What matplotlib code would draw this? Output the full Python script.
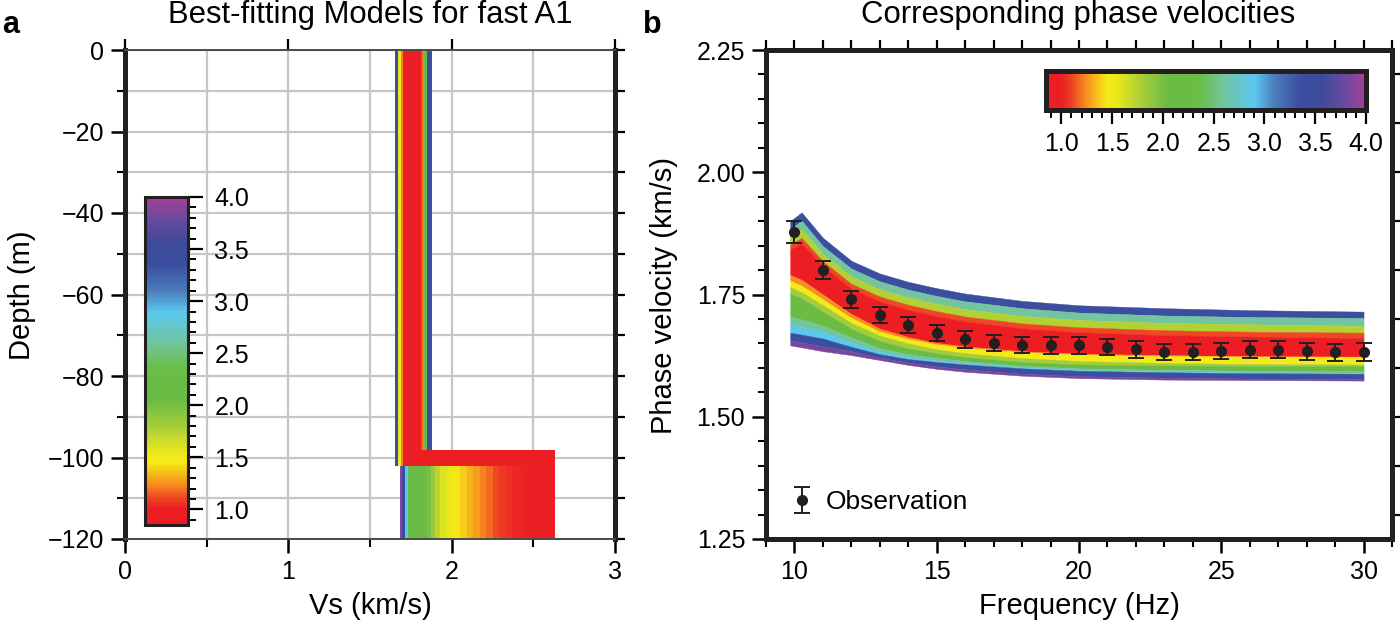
import matplotlib
matplotlib.use("Agg")
import matplotlib.pyplot as plt
from matplotlib.colors import LinearSegmentedColormap, Normalize
from matplotlib.cm import ScalarMappable
from matplotlib.ticker import MultipleLocator, FixedLocator, FormatStrFormatter

plt.rcParams['font.family'] = ['Liberation Sans', 'DejaVu Sans']

# ---------------- colour scale (misfit) ----------------
cmap_vals = [0.85, 1.0, 1.1, 1.25, 1.45, 1.55, 1.8, 2.05, 2.35, 2.6, 2.9, 3.1, 3.35, 3.55, 3.8, 4.0]
cmap_cols = ['#ec1c24', '#ec1f24', '#ee4223', '#f7941d', '#f6eb16', '#eae71c', '#a4cd39',
             '#6cbb45', '#6abd45', '#72c59e', '#5ac8f0', '#4b7cba', '#3b4fa0', '#3d4a9c',
             '#6a4a9e', '#a53f97']
misfit_min, misfit_max = 0.85, 4.0
cbar_ticks = [1.0, 1.5, 2.0, 2.5, 3.0, 3.5, 4.0]

# ---------------- panel a: best-fitting Vs models ----------------
layer_depth = 100.0
model_top, model_bottom = 0.0, -120.0
model_misfit = [3.9, 3.45, 3.35, 2.9, 2.3, 2.2, 2.15, 2.1, 2.0, 1.85, 1.72, 1.6, 1.52, 1.45,
                1.38, 1.32, 1.27, 1.22, 1.17, 1.12, 1.08, 1.05, 1.03, 1.02, 1.0, 0.99, 0.98]
model_vs1 = [1.740, 1.705, 1.828, 1.790, 1.800, 1.795, 1.790, 1.785, 1.780, 1.730, 1.728, 1.725,
             1.720, 1.745, 1.745, 1.742, 1.740, 1.739, 1.776, 1.770, 1.765, 1.760, 1.755, 1.760,
             1.751, 1.763, 1.757]
model_vs2 = [1.733, 1.745, 1.751, 1.763, 1.78, 1.80, 1.83, 1.86, 1.89, 1.92, 1.95, 1.98, 2.02,
             2.06, 2.10, 2.14, 2.18, 2.22, 2.26, 2.30, 2.34, 2.38, 2.42, 2.46, 2.50, 2.54, 2.584]

# ---------------- panel b: dispersion curves (bands) ----------------
freq_c = [9.85, 10.25, 11, 12, 13, 14, 15, 16, 18, 20, 23, 26, 30]
T0 = [1.900, 1.918, 1.866, 1.819, 1.793, 1.776, 1.763, 1.752, 1.737, 1.728, 1.722, 1.718, 1.715]
T1 = [1.884, 1.901, 1.849, 1.803, 1.777, 1.760, 1.747, 1.736, 1.722, 1.713, 1.707, 1.704, 1.702]
T2 = [1.870, 1.884, 1.833, 1.787, 1.761, 1.744, 1.731, 1.720, 1.706, 1.698, 1.692, 1.689, 1.686]
T3 = [1.852, 1.866, 1.818, 1.772, 1.746, 1.729, 1.716, 1.705, 1.691, 1.683, 1.677, 1.674, 1.672]
T4 = [1.842, 1.855, 1.808, 1.762, 1.736, 1.719, 1.706, 1.695, 1.681, 1.673, 1.667, 1.664, 1.661]
La = [1.790, 1.780, 1.750, 1.710, 1.680, 1.663, 1.651, 1.644, 1.634, 1.629, 1.626, 1.624, 1.623]
Lb = [1.778, 1.768, 1.740, 1.702, 1.674, 1.659, 1.648, 1.641, 1.632, 1.627, 1.624, 1.623, 1.622]
Lc = [1.765, 1.755, 1.728, 1.692, 1.666, 1.650, 1.638, 1.630, 1.620, 1.614, 1.610, 1.608, 1.607]
Ld = [1.752, 1.742, 1.715, 1.680, 1.655, 1.640, 1.630, 1.622, 1.612, 1.607, 1.605, 1.604, 1.604]
Le = [1.705, 1.699, 1.686, 1.662, 1.640, 1.628, 1.620, 1.614, 1.604, 1.599, 1.596, 1.594, 1.593]
Lf = [1.688, 1.683, 1.673, 1.652, 1.633, 1.622, 1.615, 1.610, 1.601, 1.596, 1.593, 1.591, 1.590]
Lg = [1.672, 1.668, 1.660, 1.643, 1.628, 1.618, 1.612, 1.607, 1.599, 1.594, 1.591, 1.589, 1.588]
Lh = [1.656, 1.652, 1.644, 1.634, 1.621, 1.611, 1.603, 1.597, 1.588, 1.583, 1.580, 1.578, 1.577]
Li = [1.646, 1.642, 1.634, 1.626, 1.616, 1.606, 1.598, 1.592, 1.584, 1.579, 1.576, 1.575, 1.574]
band_edges = [T0, T1, T2, T3, T4, La, Lb, Lc, Ld, Le, Lf, Lg, Lh, Li]
band_misfit = [3.4, 2.6, 1.75, 1.12, 0.95, 1.25, 1.47, 1.8, 2.2, 2.6, 2.9, 3.4, 3.85]

obs_f = [10, 11, 12, 13, 14, 15, 16, 17, 18, 19, 20, 21, 22, 23, 24, 25, 26, 27, 28, 29, 30]
obs_v = [1.878, 1.800, 1.740, 1.708, 1.688, 1.671, 1.658, 1.651, 1.647, 1.646, 1.646, 1.643,
         1.638, 1.633, 1.632, 1.634, 1.637, 1.637, 1.634, 1.632, 1.632]
obs_err = [0.023, 0.019, 0.017, 0.017, 0.017, 0.017, 0.017, 0.017, 0.017, 0.017, 0.017, 0.017,
           0.017, 0.016, 0.016, 0.016, 0.017, 0.017, 0.017, 0.017, 0.018]

# ---------------- figure ----------------
W, H = 1400, 628
fig = plt.figure(figsize=(W / 100, H / 100), dpi=100)
cmap = LinearSegmentedColormap.from_list(
    'misfit', [((v - misfit_min) / (misfit_max - misfit_min), c) for v, c in zip(cmap_vals, cmap_cols)])
norm = Normalize(misfit_min, misfit_max)

def fx(px):
    return px / W

def fy(py):
    return 1 - py / H

TICK_FS = 18
LAB_FS = 21
TITLE_FS = 22.4

# ===== panel a =====
axA = fig.add_axes([fx(125), fy(539), fx(490), 489 / H])
axA.set_xlim(0, 3)
axA.set_ylim(-120, 0)
axA.xaxis.set_major_locator(FixedLocator([0, 1, 2, 3]))
axA.xaxis.set_minor_locator(FixedLocator([0.5, 1.5, 2.5]))
axA.yaxis.set_major_locator(MultipleLocator(20))
axA.yaxis.set_minor_locator(MultipleLocator(10))
axA.grid(True, which='both', color='#c6c6c6', lw=1.6)
axA.set_axisbelow(True)
axA.tick_params(which='major', direction='out', length=10, width=1.8, labelsize=TICK_FS, pad=5)
axA.tick_params(which='minor', direction='out', length=6, width=1.5)
for s in ['left', 'right']:
    axA.spines[s].set_linewidth(3.6)
    axA.spines[s].set_color('#231f20')
for s in ['top', 'bottom']:
    axA.spines[s].set_linewidth(1.4)
    axA.spines[s].set_color('#4a4a4a')

for m, v1, v2 in zip(model_misfit, model_vs1, model_vs2):
    axA.plot([v1, v1, v2, v2], [model_top, -layer_depth, -layer_depth, model_bottom],
             color=cmap(norm(m)), lw=11.5, solid_joinstyle='miter', solid_capstyle='butt',
             zorder=2)

secA = axA.secondary_xaxis('top')
secA.xaxis.set_major_locator(FixedLocator([0, 1, 2, 3]))
secA.tick_params(direction='out', length=8, width=1.6, labeltop=False)
secA.spines['top'].set_visible(False)
secAr = axA.secondary_yaxis('right')
secAr.yaxis.set_major_locator(MultipleLocator(10))
secAr.tick_params(direction='out', length=7, width=1.6, labelright=False)
secAr.spines['right'].set_visible(False)

caxA = fig.add_axes([fx(145), fy(525), fx(43), 328 / H])
cbA = fig.colorbar(ScalarMappable(norm=norm, cmap=cmap), cax=caxA, orientation='vertical')
cbA.set_ticks(cbar_ticks)
cbA.ax.yaxis.set_major_formatter(FormatStrFormatter('%.1f'))
cbA.ax.yaxis.set_minor_locator(MultipleLocator(0.1))
cbA.ax.tick_params(which='major', length=11, width=1.6, labelsize=TICK_FS, pad=8)
cbA.ax.tick_params(which='minor', length=6, width=1.4)
cbA.outline.set_linewidth(2.2)
cbA.outline.set_edgecolor('#231f20')

# ===== panel b =====
axB = fig.add_axes([fx(766), fy(539), fx(626), 489 / H])
axB.set_xlim(9, 31)
axB.set_ylim(1.25, 2.25)
for i, m in enumerate(band_misfit):
    axB.fill_between(freq_c, band_edges[i + 1], band_edges[i], color=cmap(norm(m)), lw=0.3,
                     edgecolor=cmap(norm(m)), zorder=2)
eb = axB.errorbar(obs_f, obs_v, yerr=obs_err, fmt='o', color='#231f20', ms=7, capsize=5.5,
                  capthick=1.4, elinewidth=1.4, label='Observation', zorder=5)
axB.xaxis.set_major_locator(FixedLocator([10, 15, 20, 25, 30]))
axB.xaxis.set_minor_locator(MultipleLocator(1))
axB.yaxis.set_major_locator(MultipleLocator(0.25))
axB.yaxis.set_minor_locator(MultipleLocator(0.05))
axB.yaxis.set_major_formatter(FormatStrFormatter('%.2f'))
axB.tick_params(which='major', direction='out', length=10, width=1.8, labelsize=TICK_FS, pad=5)
axB.tick_params(which='minor', direction='out', length=6, width=1.5)
for s in axB.spines.values():
    s.set_linewidth(3.6)
    s.set_color('#231f20')
secB = axB.secondary_xaxis('top')
secB.xaxis.set_major_locator(MultipleLocator(1))
secB.tick_params(direction='out', length=7, width=1.6, labeltop=False)
secB.spines['top'].set_visible(False)
secBr = axB.secondary_yaxis('right')
secBr.yaxis.set_major_locator(MultipleLocator(0.1))
secBr.tick_params(direction='out', length=7, width=1.6, labelright=False)
secBr.spines['right'].set_visible(False)

axB.legend(loc='center left', bbox_to_anchor=(0.02, 37 / 489), frameon=False, fontsize=19,
           handlelength=1.0, handletextpad=0.4, borderaxespad=0, borderpad=0.4)

caxB = fig.add_axes([fx(1046), fy(110), fx(320), 39 / H])
cbB = fig.colorbar(ScalarMappable(norm=norm, cmap=cmap), cax=caxB, orientation='horizontal')
cbB.set_ticks(cbar_ticks)
cbB.ax.xaxis.set_major_formatter(FormatStrFormatter('%.1f'))
cbB.ax.xaxis.set_minor_locator(MultipleLocator(0.1))
cbB.ax.tick_params(which='major', length=10, width=1.6, labelsize=TICK_FS, pad=6)
cbB.ax.tick_params(which='minor', length=6, width=1.4)
cbB.outline.set_linewidth(3.6)
cbB.outline.set_edgecolor('#231f20')

# ===== texts =====
fig.text(fx(370), fy(15), 'Best-fitting Models for fast A1', ha='center', va='center', fontsize=TITLE_FS)
fig.text(fx(1078), fy(15), 'Corresponding phase velocities', ha='center', va='center', fontsize=TITLE_FS)
fig.text(fx(2), fy(25), 'a', ha='left', va='center', fontsize=22, fontweight='bold')
fig.text(fx(643), fy(25), 'b', ha='left', va='center', fontsize=22, fontweight='bold')
fig.text(fx(370), fy(606), 'Vs (km/s)', ha='center', va='center', fontsize=LAB_FS)
fig.text(fx(1079), fy(606), 'Frequency (Hz)', ha='center', va='center', fontsize=LAB_FS)
fig.text(fx(22), fy(295), 'Depth (m)', ha='center', va='center', rotation=90, fontsize=LAB_FS)
fig.text(fx(664), fy(295), 'Phase velocity (km/s)', ha='center', va='center', rotation=90, fontsize=LAB_FS)

fig.savefig('out.png', dpi=100)
